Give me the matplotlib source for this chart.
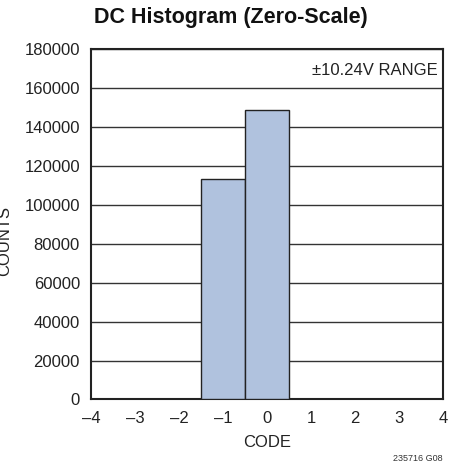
import matplotlib.pyplot as plt
import numpy as np

plt.rcParams['font.family'] = ['Liberation Sans', 'DejaVu Sans']

# histogram data
codes = [-1, 0]
counts = [113200, 148500]
xticks = [-4, -3, -2, -1, 0, 1, 2, 3, 4]
yticks = [0, 20000, 40000, 60000, 80000, 100000, 120000, 140000, 160000, 180000]

fig = plt.figure(figsize=(4.67, 4.65), dpi=100)
ax = fig.add_axes([0.1949, 0.1409, 0.7537, 0.7537])

ax.bar(codes, counts, width=1.0, color='#b0c2de', edgecolor='#222222',
       linewidth=1.0, zorder=3)

ax.set_xlim(-4, 4)
ax.set_ylim(0, 180000)
ax.set_xticks(xticks)
ax.set_yticks(yticks)
ax.set_xticklabels([str(t).replace('-', '\u2013') for t in xticks])
ax.tick_params(length=0, labelsize=12, colors='#222222', pad=8)
ax.yaxis.grid(True, color='#333333', linewidth=1.0, zorder=0)
ax.set_axisbelow(True)
for s in ax.spines.values():
    s.set_linewidth(1.5)
    s.set_color('#222222')

ax.set_xlabel('CODE', fontsize=12, color='#222222', labelpad=7)
fig.text(0.010, 0.482, 'COUNTS', rotation=90, ha='center', va='center',
         fontsize=12, color='#222222')

ax.text(0.985, 0.96, '\u00b110.24V RANGE', transform=ax.transAxes,
        ha='right', va='top', fontsize=12, color='#222222')

fig.text(0.495, 0.962, 'DC Histogram (Zero-Scale)', ha='center', va='center',
         fontsize=15.5, fontweight='bold', color='#111111')
fig.text(0.948, 0.004, '235716 G08', ha='right', va='bottom',
         fontsize=6.5, color='#333333')

fig.savefig('out.png', dpi=100)
